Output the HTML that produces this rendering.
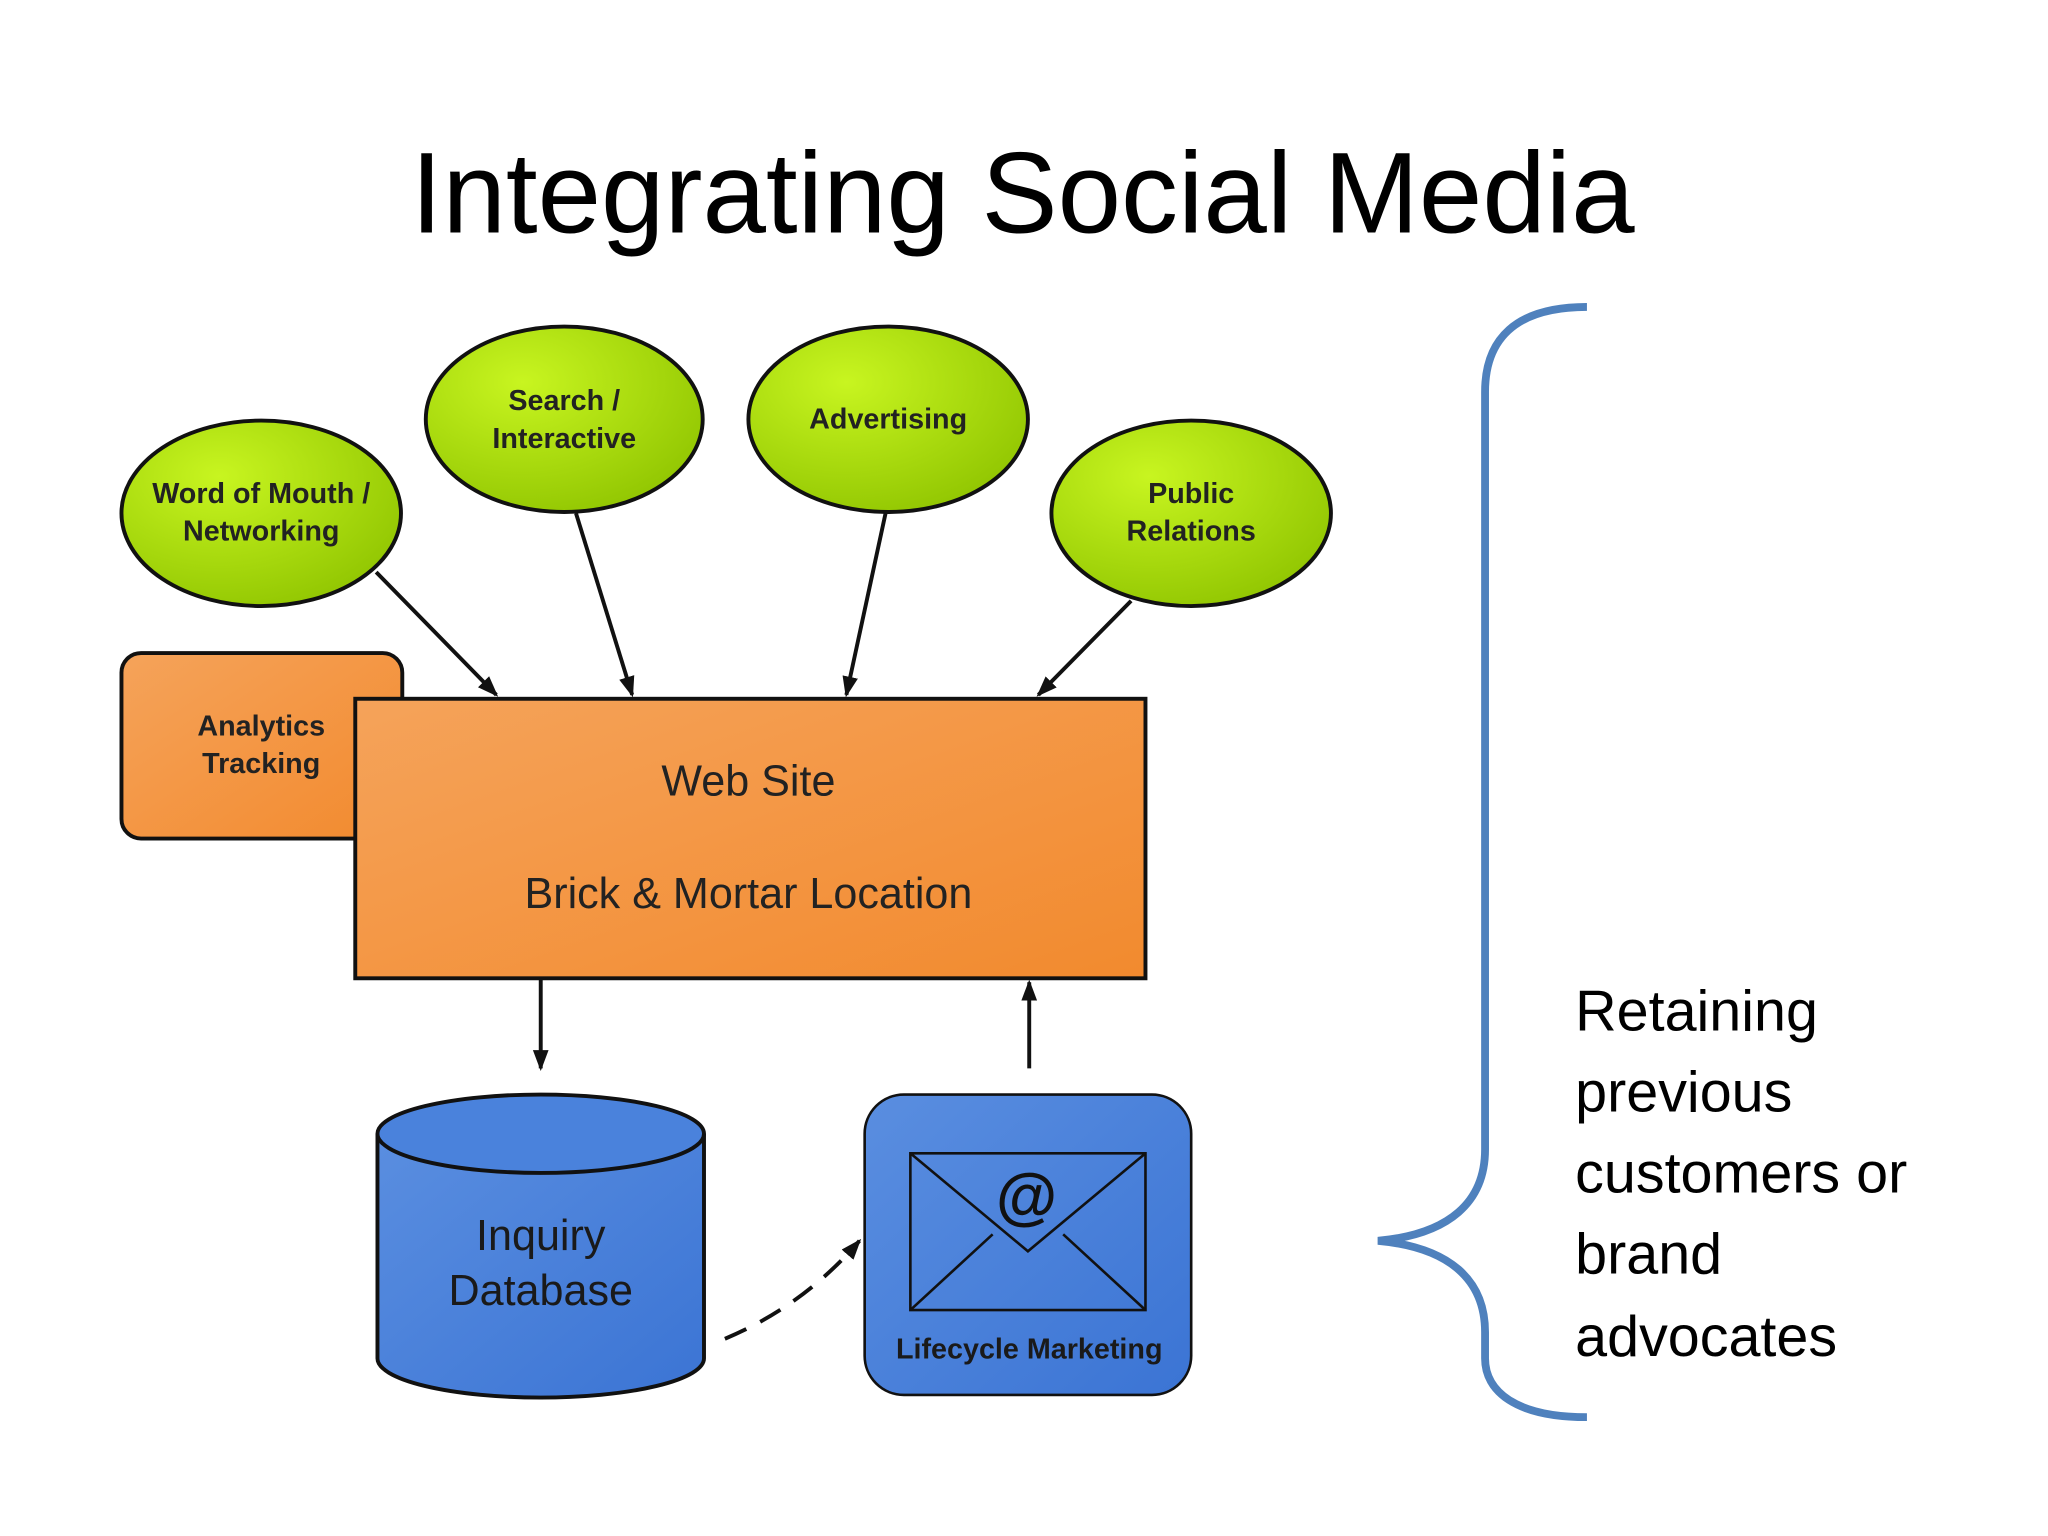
<!DOCTYPE html>
<html><head><meta charset="utf-8"><style>html,body{margin:0;padding:0;background:#fff}svg{display:block}</style></head>
<body>
<svg width="2048" height="1536" viewBox="0 0 1568 1176" xmlns="http://www.w3.org/2000/svg" font-family="Liberation Sans, sans-serif">
<defs>
<radialGradient id="g" cx="0.35" cy="0.3" r="0.8"><stop offset="0" stop-color="#c8f520"/><stop offset="1" stop-color="#8fc400"/></radialGradient>
<linearGradient id="o" x1="0" y1="0" x2="1" y2="1"><stop offset="0" stop-color="#f5a35a"/><stop offset="1" stop-color="#f28a2e"/></linearGradient>
<linearGradient id="b" x1="0" y1="0" x2="1" y2="1"><stop offset="0" stop-color="#5a8ee0"/><stop offset="1" stop-color="#3b74d4"/></linearGradient>
<marker id="a" markerWidth="10" markerHeight="10" refX="9" refY="5" orient="auto" markerUnits="userSpaceOnUse" viewBox="0 0 10 10"><path d="M0,0 L10,5 L0,10 z" fill="#111"/></marker>
<marker id="a2" markerWidth="16" markerHeight="16" refX="14" refY="8" orient="auto" markerUnits="userSpaceOnUse" viewBox="0 0 16 16"><path d="M0,2 L16,8 L0,14 z" fill="#111"/></marker>
</defs>
<text x="783" y="178" font-family="Liberation Sans Narrow, Liberation Sans, sans-serif" font-size="88" text-anchor="middle" textLength="937" lengthAdjust="spacingAndGlyphs" fill="#000">Integrating Social Media</text>

<g stroke="#111" stroke-width="3" fill="url(#g)">
<ellipse cx="200" cy="393" rx="107" ry="71"/>
<ellipse cx="432" cy="321" rx="106" ry="71"/>
<ellipse cx="680" cy="321" rx="107" ry="71"/>
<ellipse cx="912" cy="393" rx="107" ry="71"/>
</g>
<g font-size="22" font-weight="bold" fill="#222" text-anchor="middle">
<text x="200" y="385">Word of Mouth /</text><text x="200" y="414">Networking</text>
<text x="432" y="314">Search /</text><text x="432" y="343">Interactive</text>
<text x="680" y="328">Advertising</text>
<text x="912" y="385">Public</text><text x="912" y="414">Relations</text>
</g>

<g stroke="#111" stroke-width="3" marker-end="url(#a2)">
<line x1="288" y1="438" x2="380" y2="532"/>
<line x1="441" y1="393" x2="484" y2="532"/>
<line x1="678" y1="393" x2="648" y2="532"/>
<line x1="866" y1="460" x2="795" y2="532"/>
<line x1="414" y1="750" x2="414" y2="818"/>
<line x1="788" y1="818" x2="788" y2="752"/>
</g>

<rect x="93" y="500" width="215" height="142" rx="15" fill="url(#o)" stroke="#111" stroke-width="3"/>
<text x="200" y="563" font-size="22" font-weight="bold" fill="#222" text-anchor="middle">Analytics</text>
<text x="200" y="592" font-size="22" font-weight="bold" fill="#222" text-anchor="middle">Tracking</text>
<rect x="272" y="535" width="605" height="214" fill="url(#o)" stroke="#111" stroke-width="3"/>
<text x="573" y="609" font-size="33" fill="#222" text-anchor="middle">Web Site</text>
<text x="573" y="695" font-size="33" fill="#222" text-anchor="middle">Brick &amp; Mortar Location</text>

<path d="M289,868 L289,1040 A125,30 0 0 0 539,1040 L539,868" fill="url(#b)" stroke="#111" stroke-width="3"/>
<ellipse cx="414" cy="868" rx="125" ry="30" fill="#4a82dc" stroke="#111" stroke-width="3"/>
<text x="414" y="957" font-size="33" fill="#1a1a1a" text-anchor="middle">Inquiry</text>
<text x="414" y="999" font-size="33" fill="#1a1a1a" text-anchor="middle">Database</text>

<rect x="662" y="838" width="250" height="230" rx="30" fill="url(#b)" stroke="#111" stroke-width="2"/>
<rect x="697" y="883" width="180" height="120" fill="none" stroke="#111" stroke-width="2"/>
<path d="M697,883 L787,958 L877,883 M697,1003 L760,945 M877,1003 L814,945" fill="none" stroke="#111" stroke-width="2"/>
<text x="786" y="932" font-size="48" font-weight="bold" fill="#111" text-anchor="middle">@</text>
<text x="788" y="1040" font-size="22" font-weight="bold" fill="#1a1a1a" text-anchor="middle">Lifecycle Marketing</text>

<path d="M555,1025 Q615,1000 658,950" fill="none" stroke="#111" stroke-width="3" stroke-dasharray="18,12" marker-end="url(#a2)"/>

<path d="M1215,235 C1160,235 1137,260 1137,300 L1137,880 C1137,920 1110,945 1055,950 C1110,955 1137,980 1137,1020 L1137,1040 C1137,1065 1160,1085 1215,1085" fill="none" stroke="#4f81bd" stroke-width="6"/>

<g font-family="Liberation Sans Narrow, Liberation Sans, sans-serif" font-size="44" fill="#000">
<text x="1206" y="789">Retaining</text>
<text x="1206" y="851">previous</text>
<text x="1206" y="913">customers or</text>
<text x="1206" y="975">brand</text>
<text x="1206" y="1038">advocates</text>
</g>
</svg>
</body></html>
